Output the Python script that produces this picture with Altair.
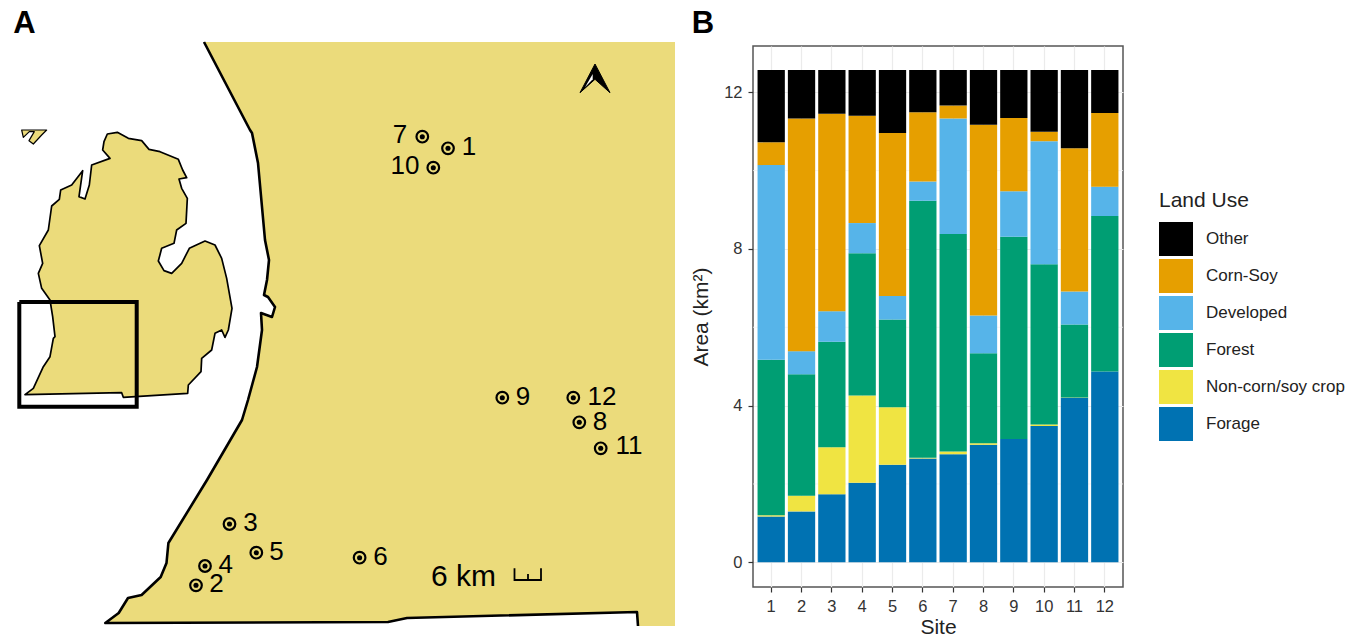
import altair as alt
import pandas as pd

FONT = "Liberation Sans"

# ---------- panel B data ----------
sites = list(range(1, 13))
forage = [1.17, 1.30, 1.74, 2.03, 2.49, 2.65, 2.76, 3.00, 3.15, 3.48, 4.20, 4.87]
noncorn = [0.03, 0.40, 1.20, 2.23, 1.47, 0.02, 0.07, 0.04, 0.00, 0.04, 0.01, 0.00]
forest = [3.97, 3.10, 2.69, 3.63, 2.24, 6.56, 5.55, 2.30, 5.16, 4.09, 1.86, 3.97]
developed = [4.97, 0.59, 0.78, 0.77, 0.60, 0.49, 2.95, 0.96, 1.16, 3.14, 0.84, 0.75]
cornsoy = [0.58, 5.94, 5.04, 2.74, 4.16, 1.77, 0.33, 4.87, 1.87, 0.24, 3.66, 1.88]
other = [1.85, 1.24, 1.12, 1.17, 1.61, 1.08, 0.91, 1.40, 1.23, 1.58, 2.00, 1.10]
legend_order = ["Other", "Corn-Soy", "Developed", "Forest", "Non-corn/soy crop", "Forage"]
legend_colors = ["#000000", "#E69F00", "#56B4E9", "#009E73", "#F0E442", "#0072B2"]
y_ticks = [0, 4, 8, 12]
y_minor = [2, 6, 10]

# ---------- panel A data (map coordinates) ----------
site_x = [448, 196, 229.5, 205, 256.3, 359.6, 422.3, 579.3, 502.3, 433.3, 600.7, 573.3]
site_y = [148.3, 585.3, 524, 566, 552.7, 557.7, 136.7, 422.3, 397.7, 167.7, 448.3, 397.7]
label_x = [469, 216.6, 250.6, 225.8, 276.6, 380.6, 400, 600, 523, 405, 629, 602]
label_y = [147, 584, 523, 565, 552, 557, 135, 422, 397, 166, 446, 397]

land_coast = [[204, 42], [250, 130], [252, 133], [258, 163], [262, 207], [265, 240], [269, 260],
              [267, 280], [264, 295], [268, 297], [275, 307], [272, 317], [261, 313], [262, 330],
              [257, 367], [248, 400], [242, 420], [207, 480], [168.4, 543], [166.5, 563],
              [160.7, 577], [141.6, 595], [128, 598], [118.7, 613], [105.3, 623], [388, 622],
              [407, 618], [637, 612], [638, 626]]
land_rest = [[675, 626], [675, 42]]

# Lower peninsula outline, in the inset's own units (3 per map unit, origin at y=100)
inset = [[322, 102], [352, 97], [385, 115], [425, 122], [447, 148], [480, 155], [535, 178], [548, 210],
         [560, 233], [537, 237], [545, 265], [562, 295], [558, 370], [530, 390], [522, 430], [485, 445],
         [475, 483], [492, 512], [515, 520], [545, 490], [568, 445], [615, 423], [645, 435], [665, 475],
         [680, 535], [696, 625], [685, 690], [675, 712], [665, 690], [645, 700], [635, 750], [605, 775],
         [603, 815], [565, 855], [563, 880], [370, 892], [365, 878], [75, 884], [100, 865], [130, 800],
         [150, 770], [160, 715], [165, 710], [158, 650], [150, 600], [125, 565], [115, 520], [128, 490],
         [118, 437], [145, 390], [155, 318], [178, 298], [182, 270], [215, 255], [248, 212], [237, 290],
         [255, 297], [268, 255], [275, 195], [330, 175], [308, 150], [312, 125]]
upper = [[65, 90], [140, 90], [125, 105], [100, 132], [87, 122], [103, 95], [88, 95], [70, 112]]
box = [[19.3, 302], [136.7, 302], [136.7, 406.7], [19.3, 406.7], [19.3, 302]]
scale_bar = [[514.5, 568.3], [514.5, 580], [541, 580], [541, 568.3]]
scale_mid = [[528, 574], [528, 580]]
arrow = [[595, 64], [610, 92.7], [595, 79.3], [580, 92.7]]
arrow_glint = [[592.7, 74], [585, 87.3], [592.7, 79.3]]

LAND = "#EBDB7B"


def to_map(pts):
    return [[x / 3, 100 + y / 3] for x, y in pts]


def poly(pts):
    ring = list(pts) + [pts[0]]
    return {"type": "Feature", "properties": {}, "geometry": {"type": "Polygon", "coordinates": [ring]}}


def path(pts):
    return {"type": "Feature", "properties": {}, "geometry": {"type": "LineString", "coordinates": pts}}


def shape(features, **kw):
    return alt.Chart(alt.Data(values=features)).mark_geoshape(clip=False, **kw).encode(opacity=alt.value(1))


W_LEFT, PLOT_X, PLOT_Y, PLOT_W, PLOT_H = 740, 753, 46, 370, 541

land_fill = shape([poly(land_coast + land_rest)], fill=LAND, strokeWidth=0)
land_line = shape([path(land_coast)], filled=False, stroke="black", strokeWidth=2.6, strokeJoin="round")
inset_up = shape([poly(to_map(upper))], fill=LAND, stroke="black", strokeWidth=1.2, strokeJoin="round")
inset_lp = shape([poly(to_map(inset))], fill=LAND, stroke="black", strokeWidth=1.7, strokeJoin="round")
box_line = shape([path(box)], filled=False, stroke="black", strokeWidth=4, strokeJoin="miter")
bar_line = shape([path(scale_bar), path(scale_mid)], filled=False, stroke="black", strokeWidth=1.8)
arrow_shape = shape([poly(arrow)], fill="black", stroke="black", strokeWidth=1, strokeJoin="round")
glint_shape = shape([poly(arrow_glint)], fill="white", strokeWidth=0)

pts = pd.DataFrame({"x": site_x, "y": site_y, "lx": label_x, "ly": label_y, "s": [str(s) for s in sites]})
ring = alt.Chart(pts).mark_point(clip=False, shape="circle", filled=False, stroke="black", strokeWidth=2.2, size=135, opacity=1).encode(
    longitude="x:Q", latitude="y:Q")
dot = alt.Chart(pts).mark_point(clip=False, shape="circle", filled=True, fill="black", size=26, opacity=1, strokeWidth=0).encode(
    longitude="x:Q", latitude="y:Q")
labels = alt.Chart(pts).mark_text(clip=False, font=FONT, fontSize=26, color="black", align="center", baseline="middle").encode(
    longitude="lx:Q", latitude="ly:Q", text="s:N")

notes = pd.DataFrame({"x": [463.5], "y": [577], "t": ["6 km"]})
km = alt.Chart(notes).mark_text(clip=False, font=FONT, fontSize=30, color="black", align="center", baseline="middle").encode(
    longitude="x:Q", latitude="y:Q", text="t:N")

panel_tags = pd.DataFrame({"x": [24.5, 703], "y": [24, 24], "t": ["A", "B"]})
tags = alt.Chart(panel_tags).mark_text(clip=False, font=FONT, fontSize=31, fontWeight="bold", color="black",
                                       align="center", baseline="middle").encode(
    longitude="x:Q", latitude="y:Q", text="t:N")

left = alt.layer(land_fill, land_line, inset_up, inset_lp, box_line, bar_line, arrow_shape, glint_shape,
                 ring, dot, labels, km, tags).project(
    type="identity", scale=1, translate=[-(PLOT_X - W_LEFT), -PLOT_Y]).properties(
    width=W_LEFT, height=PLOT_H, view=alt.ViewBackground(stroke=None))

# ---------- panel B ----------
series = {"Forage": forage, "Non-corn/soy crop": noncorn, "Forest": forest,
          "Developed": developed, "Corn-Soy": cornsoy, "Other": other}
rows = []
for rank, (name, vals) in enumerate(series.items()):
    for s, v in zip(sites, vals):
        rows.append({"site": s, "use": name, "area": v, "rank": rank})
df = pd.DataFrame(rows)

y_scale = alt.Scale(domain=[-0.63, 13.18], nice=False, zero=False)
y_axis = alt.Axis(values=y_ticks, labelFont=FONT, labelFontSize=16.5, labelColor="#333333",
                  titleFont=FONT, titleFontSize=21, titleFontWeight="normal", titleColor="#222222",
                  titlePadding=12, labelPadding=6, tickColor="#333333", tickSize=5, tickWidth=1.2,
                  domain=False, grid=True, gridColor="#ebebeb", gridWidth=1.2)
minor = alt.Chart(pd.DataFrame({"v": y_minor})).mark_rule(color="#f2f2f2", strokeWidth=0.8).encode(
    y=alt.Y("v:Q", scale=y_scale, axis=y_axis, title="Area (km²)"))

bars = alt.Chart(df).mark_bar(strokeWidth=0, cornerRadius=0).encode(
    x=alt.X("site:O", title="Site",
            scale=alt.Scale(paddingInner=0.1, paddingOuter=0.15),
            axis=alt.Axis(labelAngle=0, labelFont=FONT, labelFontSize=16.5, labelColor="#333333",
                          titleFont=FONT, titleFontSize=21, titleFontWeight="normal", titleColor="#222222",
                          titlePadding=2, labelPadding=6, tickColor="#333333", tickSize=5, tickWidth=1.2,
                          domain=False, grid=True, gridColor="#ebebeb", gridWidth=1.2)),
    y=alt.Y("area:Q", stack="zero", scale=y_scale, title="Area (km²)", axis=y_axis),
    color=alt.Color("use:N", scale=alt.Scale(domain=legend_order, range=legend_colors),
                    legend=alt.Legend(title="Land Use", orient="none", legendX=1146, legendY=144,
                                      symbolType="square", symbolSize=1156, symbolStrokeWidth=0,
                                      symbolOpacity=1, rowPadding=3, labelOffset=13, labelFont=FONT,
                                      labelFontSize=17, labelColor="#222222", labelLimit=200,
                                      titleFont=FONT, titleFontSize=21, titleFontWeight="normal",
                                      titleColor="#222222", titlePadding=11)),
    order=alt.Order("rank:Q"),
)

right = alt.layer(minor, bars).properties(
    width=PLOT_W, height=PLOT_H, view=alt.ViewBackground(stroke="#555555", strokeWidth=1.5))

chart = alt.hconcat(left, right, spacing=0).properties(
    bounds="flush", padding={"left": 3, "top": 0, "right": 0, "bottom": 0}
).configure(font=FONT)

chart.save("out.html", embed_options={"renderer": "svg", "actions": False})
